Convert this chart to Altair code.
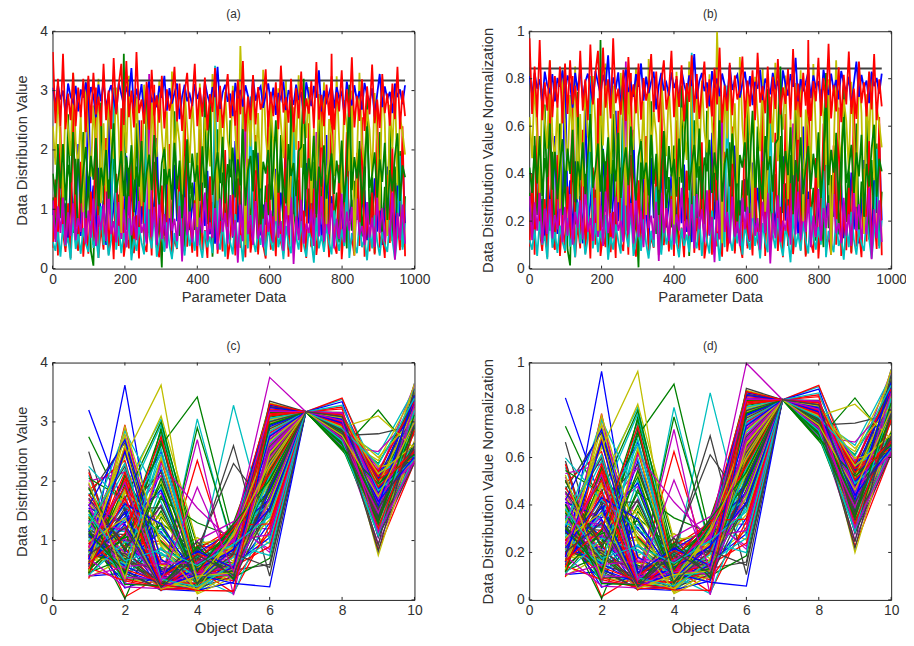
import altair as alt
import pandas as pd

alt.data_transformers.disable_max_rows()

parameter_index = list(range(1, 981, 7))
object_index = [1, 2, 3, 4, 5, 6, 7, 8, 9, 10]
line_colors = ["#0000ff", "#008000", "#ff0000", "#00bfbf", "#bf00bf", "#bfbf00", "#404040"]
norm_max = 3.76

object_1 = [
0.90,1.30,0.60,1.80,0.75,1.10,0.45,1.50,1.00,0.70,2.10,0.55,1.25,0.85,
3.20,0.95,1.40,0.50,1.70,0.80,1.15,0.40,2.75,0.65,1.05,1.55,0.70,1.20,
0.60,1.90,0.90,1.35,0.50,1.10,2.50,0.75,1.60,0.45,1.00,1.30,0.85,2.20,
0.70,1.20,0.55,1.45,0.95,0.38,1.75,0.80,1.10,0.60,1.35,2.00,0.65,1.05,
1.50,0.48,0.90,1.25,0.72,1.65,0.58,1.12,0.42,1.85,0.98,0.68,1.40,0.82,
1.15,0.52,2.15,0.78,1.30,0.62,1.00,1.55,0.46,0.88,1.20,1.95,0.56,1.08,
0.74,1.42,0.36,1.02,1.68,0.66,1.28,0.84,2.05,0.54,1.18,0.92,1.48,0.64,
1.10,0.44,1.78,0.76,1.34,0.58,1.06,1.58,0.50,0.96,2.25,0.70,1.22,0.86,
0.60,1.38,0.94,0.42,1.62,0.80,1.16,0.56,1.88,0.72,1.04,1.32,0.48,1.12,
0.82,1.52,0.62,1.26,0.40,0.98,1.72,0.68,1.14,0.52,1.44,0.88,1.98,0.76]
object_2 = [
1.20,0.50,2.10,0.85,1.60,0.35,2.60,1.00,0.60,1.85,0.40,1.35,2.30,0.75,
1.55,0.30,0.05,1.90,0.70,2.80,1.10,0.45,1.50,0.90,2.20,0.55,1.25,0.80,
3.62,0.65,1.70,0.25,1.05,2.45,0.50,1.40,0.95,2.95,0.60,1.15,1.80,0.35,
0.85,0.02,2.05,0.45,1.30,0.70,2.65,1.00,0.55,1.65,0.30,2.15,0.90,1.45,
0.65,1.95,0.40,1.20,2.90,0.75,1.55,0.20,1.10,2.35,0.60,1.75,0.95,0.50,
2.50,1.05,0.35,1.60,0.80,2.75,0.45,1.30,0.70,2.00,1.15,0.28,1.85,0.55,
1.40,0.90,2.55,0.42,1.25,0.72,2.25,0.58,1.70,0.32,2.85,1.02,0.62,1.50,
0.48,2.10,0.88,1.35,0.38,1.80,0.68,2.70,1.08,0.52,1.58,0.22,2.40,0.78,
1.28,0.44,1.90,0.98,0.34,2.60,0.64,1.48,0.82,2.15,0.54,1.18,2.92,0.74,
1.62,0.26,1.12,2.30,0.56,1.38,0.86,2.50,0.46,1.72,0.66,1.98,0.36,1.22]
object_3 = [
0.35,1.50,0.22,2.40,0.60,0.28,1.10,0.18,2.90,0.45,0.30,1.80,0.20,0.85,
0.25,1.30,0.40,3.05,0.18,0.70,0.32,2.20,0.24,1.00,0.16,1.60,0.38,2.70,
0.20,0.55,0.34,1.90,0.26,0.90,0.17,2.50,0.42,0.28,1.20,0.22,3.10,0.36,
0.19,1.40,0.30,0.75,2.10,0.23,0.50,0.33,1.70,0.21,2.80,0.37,0.95,0.27,
1.15,0.20,2.35,0.31,0.65,0.18,1.55,0.40,2.60,0.25,0.80,0.29,2.00,0.16,
0.48,1.25,0.22,2.95,0.35,0.70,0.19,1.85,0.27,0.60,2.25,0.24,1.05,0.39,
0.17,2.65,0.32,0.88,0.21,1.45,0.44,0.26,3.00,0.20,1.65,0.34,0.58,2.15,
0.28,0.98,0.18,2.45,0.36,1.35,0.23,0.68,2.85,0.30,1.12,0.19,3.62,0.41,
0.25,1.75,0.16,0.78,2.30,0.33,0.52,0.22,1.95,0.38,2.55,0.20,0.92,0.29,
1.28,0.24,2.75,0.35,0.62,0.18,1.58,0.43,2.05,0.26,0.85,0.31,2.40,0.21]
object_4 = [
0.45,0.30,0.62,0.20,0.75,0.38,0.52,0.15,0.90,0.33,0.58,0.25,0.68,0.42,
0.28,0.80,0.35,0.55,0.18,1.05,0.40,0.65,0.22,0.48,3.05,0.32,0.72,0.26,
0.60,0.36,0.85,0.14,0.50,0.30,0.70,0.44,0.24,2.35,0.56,0.34,0.95,0.20,
0.46,0.66,0.28,0.78,0.40,0.16,0.60,0.34,1.30,0.52,0.22,0.74,0.38,0.58,
0.30,0.88,0.42,0.18,0.64,0.36,0.54,0.26,3.42,0.48,0.32,0.82,0.20,0.70,
0.44,0.24,0.92,0.38,0.56,0.12,0.76,0.34,2.90,0.50,0.28,0.62,0.40,0.84,
0.22,0.68,0.46,0.30,1.00,0.36,0.58,0.16,0.72,0.42,0.26,2.70,0.54,0.32,
0.80,0.40,0.20,0.64,0.48,0.10,0.86,0.34,0.56,0.28,0.74,0.44,0.24,0.98,
0.52,0.30,0.66,0.38,1.55,0.18,0.60,0.42,0.26,0.78,0.36,0.50,0.14,0.70,
0.34,0.90,0.46,0.22,0.62,0.40,0.28,0.82,0.48,0.16,0.58,1.90,0.32,0.76]
object_5 = [
1.15,0.45,1.05,0.60,1.20,0.40,0.95,0.55,1.10,0.48,0.85,0.62,1.25,0.42,
0.98,0.52,1.18,0.38,0.90,0.65,1.08,0.46,1.30,0.58,0.80,0.44,1.12,0.50,
1.00,0.36,1.22,0.56,0.88,0.48,1.14,0.60,0.76,0.42,3.28,0.54,1.04,0.40,
1.16,0.50,0.92,0.34,1.26,0.64,0.84,0.46,1.06,0.12,1.20,0.56,0.96,0.44,
1.10,0.38,0.86,0.60,1.28,0.48,0.78,0.52,1.02,0.32,1.18,0.62,0.94,0.42,
1.24,0.54,0.82,0.10,1.08,0.46,2.60,0.58,0.90,0.40,1.14,0.50,0.74,0.36,
1.12,0.62,0.98,0.44,1.32,0.52,0.80,0.30,1.06,0.56,1.20,0.08,0.88,0.48,
1.16,0.42,0.76,0.60,1.00,0.38,2.30,0.54,1.22,0.46,0.92,0.58,1.10,0.34,
0.84,0.50,1.26,0.44,0.96,0.64,1.04,0.28,1.18,0.56,0.72,0.40,1.12,0.52,
0.86,0.36,1.20,0.60,1.02,0.46,0.78,0.54,1.28,0.15,0.94,0.48,1.08,0.42]
object_6 = [
2.40,1.75,3.00,2.05,1.20,2.85,2.35,1.90,3.30,2.15,1.70,2.60,0.95,3.15,
2.25,1.55,2.75,2.00,3.20,1.10,2.45,1.30,2.95,2.10,1.85,3.05,2.30,0.60,
2.70,1.95,3.25,2.20,1.50,2.90,2.05,1.05,3.10,2.35,1.00,2.80,2.15,1.88,
3.18,2.28,1.68,2.65,0.85,3.32,1.82,2.50,2.12,1.25,3.02,2.38,1.78,2.88,
2.08,0.70,3.12,1.45,2.55,2.22,1.72,3.28,2.42,1.15,2.78,1.62,2.98,2.18,
1.84,3.08,2.32,1.52,3.75,2.48,0.40,2.92,2.06,3.22,1.66,2.62,1.35,3.35,
2.26,1.74,2.82,2.10,0.80,3.04,2.44,1.86,3.16,0.90,1.60,2.72,2.00,3.26,
1.70,2.58,2.20,3.06,1.10,2.36,1.48,2.94,2.04,3.14,0.75,2.52,2.24,1.56,
3.24,2.16,1.28,2.84,2.40,1.64,3.00,0.22,1.82,3.30,2.08,1.72,2.68,2.34,
1.54,2.96,2.12,0.98,3.18,2.46,0.55,2.76,2.02,3.10,1.40,2.56,2.30,1.92]
object_7 = [3.17] * 140
object_8 = [
3.05,2.75,3.10,2.85,3.00,2.60,3.12,2.90,2.80,3.08,2.65,3.02,2.88,3.14,
2.78,3.06,2.92,2.55,3.10,2.82,3.16,2.70,2.96,3.09,2.86,2.62,3.13,2.94,
2.76,3.07,2.90,3.38,2.68,3.03,2.84,3.11,2.58,2.98,3.15,2.80,2.92,2.72,
3.08,2.88,3.25,2.66,3.04,2.78,2.96,3.12,2.52,2.90,3.10,2.82,2.94,2.74,
3.11,2.86,3.00,2.64,3.14,2.92,2.77,3.06,2.89,3.40,2.69,2.97,3.10,2.81,
2.95,2.57,3.13,2.87,3.01,2.73,3.09,2.91,2.63,3.22,2.83,2.99,3.07,2.71,
2.93,3.12,2.79,3.05,2.59,2.96,2.85,3.15,2.67,3.01,2.90,2.76,3.10,2.84,
2.98,2.54,3.14,2.92,2.74,3.08,2.88,3.34,2.65,3.00,2.81,2.95,3.11,2.70,
3.06,2.87,2.97,2.61,3.15,2.91,2.75,3.09,2.83,2.99,2.68,3.13,2.93,2.80,
3.04,2.56,2.94,3.28,2.72,3.07,2.86,2.98,2.62,3.12,2.89,3.02,2.77,3.09]
object_9 = [
1.60,1.20,1.95,1.35,2.10,1.15,1.75,1.45,2.30,1.25,1.85,1.10,1.65,2.05,
1.30,1.90,1.50,2.20,1.05,1.70,1.40,2.00,1.18,1.80,2.45,1.28,1.58,1.98,
1.22,1.88,1.48,2.08,0.95,1.72,1.38,2.15,1.12,1.62,1.92,1.32,2.25,1.52,
1.08,1.78,2.02,1.42,1.68,1.16,2.12,1.34,1.82,0.85,1.56,2.18,1.26,1.94,
1.46,1.74,1.14,2.06,1.36,1.86,2.80,1.24,1.64,1.96,1.44,2.22,1.10,1.76,
1.54,2.04,1.20,1.84,1.40,2.35,1.06,1.66,1.90,1.30,2.14,1.50,0.75,1.80,
1.60,2.00,1.16,1.70,2.50,1.28,1.92,1.42,1.10,2.10,1.56,1.78,1.22,1.98,
2.05,3.20,1.34,1.86,1.48,2.24,0.92,1.72,1.38,2.08,1.18,1.62,1.94,1.26,
1.82,1.44,2.16,1.12,1.68,3.10,1.32,1.88,1.52,2.02,1.08,1.76,2.40,1.36,
1.58,1.96,1.20,1.84,1.46,2.12,0.82,1.66,1.30,1.90,2.28,1.14,1.74,1.54]
object_10 = [
3.65,2.45,3.20,2.40,3.62,2.35,2.95,2.50,3.30,2.40,3.05,2.55,3.20,2.30,
3.25,2.45,3.30,2.60,2.90,2.40,3.45,2.50,3.00,2.35,3.55,2.60,3.10,3.45,
2.42,3.50,2.55,3.00,2.38,3.65,2.62,2.85,2.44,3.15,2.34,3.35,2.58,2.92,
2.46,3.25,2.36,3.02,2.66,2.88,3.40,2.48,3.12,2.32,2.96,3.30,2.52,2.80,
3.45,2.40,3.05,2.56,3.22,2.33,2.94,2.64,3.38,2.47,3.08,2.37,2.86,3.28,
2.54,3.00,2.41,3.18,2.60,3.50,2.31,2.90,2.50,3.26,2.43,3.06,2.68,2.84,
3.36,2.39,2.98,2.57,3.14,2.35,3.42,2.63,2.89,2.46,3.20,2.30,3.04,2.53,
3.32,2.44,2.87,2.61,3.16,2.36,3.48,2.51,2.93,2.40,3.10,2.58,3.24,2.34,
2.97,2.65,3.34,2.42,3.02,2.55,3.56,2.38,2.91,2.49,3.19,2.32,3.07,2.60,
3.44,2.45,2.85,2.37,3.28,2.62,2.95,2.41,3.12,2.52,3.40,2.35,3.00,2.57]

objects = [object_1, object_2, object_3, object_4, object_5,
           object_6, object_7, object_8, object_9, object_10]


def frame_by_object(scale):
    rows = []
    for k, values in enumerate(objects):
        for x, v in zip(parameter_index, values):
            rows.append({"x": x, "y": v / scale, "g": k, "c": line_colors[k % 7]})
    return pd.DataFrame(rows)


def frame_by_parameter(scale):
    rows = []
    for r in range(len(parameter_index)):
        for k, x in enumerate(object_index):
            rows.append({"x": x, "y": objects[k][r] / scale, "g": r, "c": line_colors[r % 7]})
    return pd.DataFrame(rows)


W, H = 366, 240
FONT = "Liberation Sans"
TXT = "#303030"


def panel(df, title, xtitle, ytitle, xdom, xticks, ydom, yticks, yfmt, sw, xpad):
    xs = alt.Scale(domain=xdom, nice=False, zero=False)
    ys = alt.Scale(domain=ydom, nice=False, zero=False)
    x_axis = alt.Axis(values=xticks, grid=False, tickSize=0, domain=False, labelPadding=4, format="d",
                      labelFontSize=14, labelColor=TXT, labelFont=FONT, titleFont=FONT,
                      titleFontSize=15, titleFontWeight="normal", titleColor=TXT,
                      titlePadding=xpad, labelFlush=False, labelOverlap=False)
    y_axis = alt.Axis(values=yticks, grid=False, tickSize=0, domain=False, labelPadding=5, format=yfmt,
                      labelFontSize=14, labelColor=TXT, labelFont=FONT, titleFont=FONT,
                      titleFontSize=15, titleFontWeight="normal", titleColor=TXT,
                      titlePadding=10, labelFlush=False, labelOverlap=False)
    lines = alt.Chart(df).mark_line(strokeWidth=sw, clip=True, interpolate="linear").encode(
        x=alt.X("x:Q", scale=xs, axis=x_axis, title=xtitle),
        y=alt.Y("y:Q", scale=ys, axis=y_axis, title=ytitle),
        detail="g:N",
        color=alt.Color("c:N", scale=None),
        order="x:Q",
    )
    xt = pd.DataFrame({"x": xticks})
    yt = pd.DataFrame({"y": yticks})
    tick = dict(color="#222222", strokeWidth=1)
    top = alt.Chart(xt).mark_rule(**tick).encode(x=alt.X("x:Q", scale=xs), y=alt.value(0), y2=alt.value(3))
    bot = alt.Chart(xt).mark_rule(**tick).encode(x=alt.X("x:Q", scale=xs), y=alt.value(H - 3), y2=alt.value(H))
    lef = alt.Chart(yt).mark_rule(**tick).encode(y=alt.Y("y:Q", scale=ys), x=alt.value(0), x2=alt.value(3))
    rig = alt.Chart(yt).mark_rule(**tick).encode(y=alt.Y("y:Q", scale=ys), x=alt.value(W - 3), x2=alt.value(W))
    return alt.layer(lines, top, bot, lef, rig).properties(
        width=W, height=H,
        title=alt.TitleParams(title, fontSize=12, fontWeight="normal", font=FONT, color=TXT, offset=3),
    )


x_a = [0, 200, 400, 600, 800, 1000]
x_c = [0, 2, 4, 6, 8, 10]
y_raw = [0, 1, 2, 3, 4]
y_norm = [0, 0.2, 0.4, 0.6, 0.8, 1]

a = panel(frame_by_object(1), "(a)", "Parameter Data", "Data Distribution Value", [0, 1000], x_a, [0, 4], y_raw, "d", 1.8, 3)
b = panel(frame_by_object(norm_max), "(b)", "Parameter Data", "Data Distribution Value Normalization", [0, 1000], x_a, [0, 1], y_norm, "~g", 1.8, 3)
c = panel(frame_by_parameter(1), "(c)", "Object Data", "Data Distribution Value", [0, 10], x_c, [0, 4], y_raw, "d", 1.3, 3)
d = panel(frame_by_parameter(norm_max), "(d)", "Object Data", "Data Distribution Value Normalization", [0, 10], x_c, [0, 1], y_norm, "~g", 1.3, 3)

chart = alt.hconcat(
    alt.vconcat(a, c, spacing=34),
    alt.vconcat(b, d, spacing=34),
    spacing=49,
).properties(background="white", padding={"left": 6, "top": -4, "right": -2, "bottom": -2}).configure_view(stroke="#222222", strokeWidth=1)

chart.save("out.html", embed_options={"renderer": "svg", "actions": False})
